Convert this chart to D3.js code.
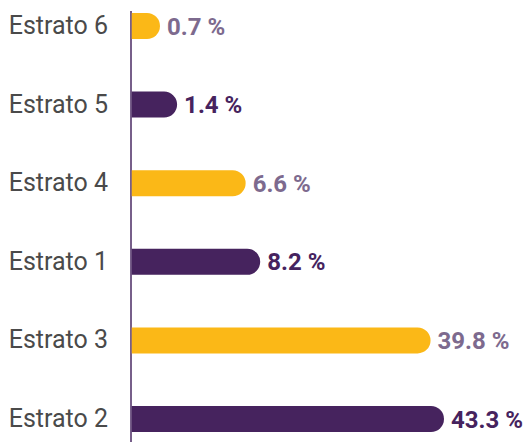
<!DOCTYPE html>
<html>
<head>
<meta charset="utf-8">
<script src="https://cdn.jsdelivr.net/npm/d3@7"></script>
<style>
  body { margin: 0; background: #fff; }
  svg { display: block; }
</style>
</head>
<body>
<svg id="chart"></svg>
<script>
const categories = ["Estrato 6", "Estrato 5", "Estrato 4", "Estrato 1", "Estrato 3", "Estrato 2"];
const values = [0.7, 1.4, 6.6, 8.2, 39.8, 43.3];
const valueLabels = ["0.7 %", "1.4 %", "6.6 %", "8.2 %", "39.8 %", "43.3 %"];

const width = 526, height = 442;
const axisX = 131;
const barH = 26;
const yellow = "#fbb817", purple = "#46235e";
const labelMuted = "#7d6a8e";
const font = "'Liberation Sans Narrow', 'Roboto', sans-serif";

const svg = d3.select("#chart")
    .attr("width", width)
    .attr("height", height);

const y = d3.scalePoint().domain(categories).range([26, 419]);
// bar lengths in the source are not linear, a sqrt scale is the closest fit
const x = d3.scaleSqrt().domain([0, 43.3]).range([118.6, 444]);

const data = categories.map((c, i) => ({ cat: c, value: values[i], label: valueLabels[i], i }));

svg.append("line")
    .attr("x1", axisX).attr("x2", axisX)
    .attr("y1", 11).attr("y2", height)
    .attr("stroke", "#4a2a63")
    .attr("stroke-width", 1.5);

data.forEach(d => {
    const cy = y(d.cat);
    const x1 = x(d.value);
    const r = barH / 2;
    const fill = d.i % 2 === 0 ? yellow : purple;
    // flat left edge at the axis, round right end
    svg.append("path")
        .attr("d", `M${axisX + 0.75},${cy - r} H${x1 - r} A${r},${r} 0 0 1 ${x1 - r},${cy + r} H${axisX + 0.75} Z`)
        .attr("fill", fill);

    svg.append("text")
        .attr("x", 108)
        .attr("y", cy + 8)
        .attr("text-anchor", "end")
        .attr("font-family", font)
        .attr("font-size", "25px")
        .attr("fill", "#4a4a4a")
        .text(d.cat);

    svg.append("text")
        .attr("x", x1 + 7)
        .attr("y", cy + 8.5)
        .attr("font-family", font)
        .attr("font-weight", "bold")
        .attr("font-size", "24px")
        .attr("fill", d.i % 2 === 0 ? labelMuted : purple)
        .text(d.label);
});
</script>
</body>
</html>
